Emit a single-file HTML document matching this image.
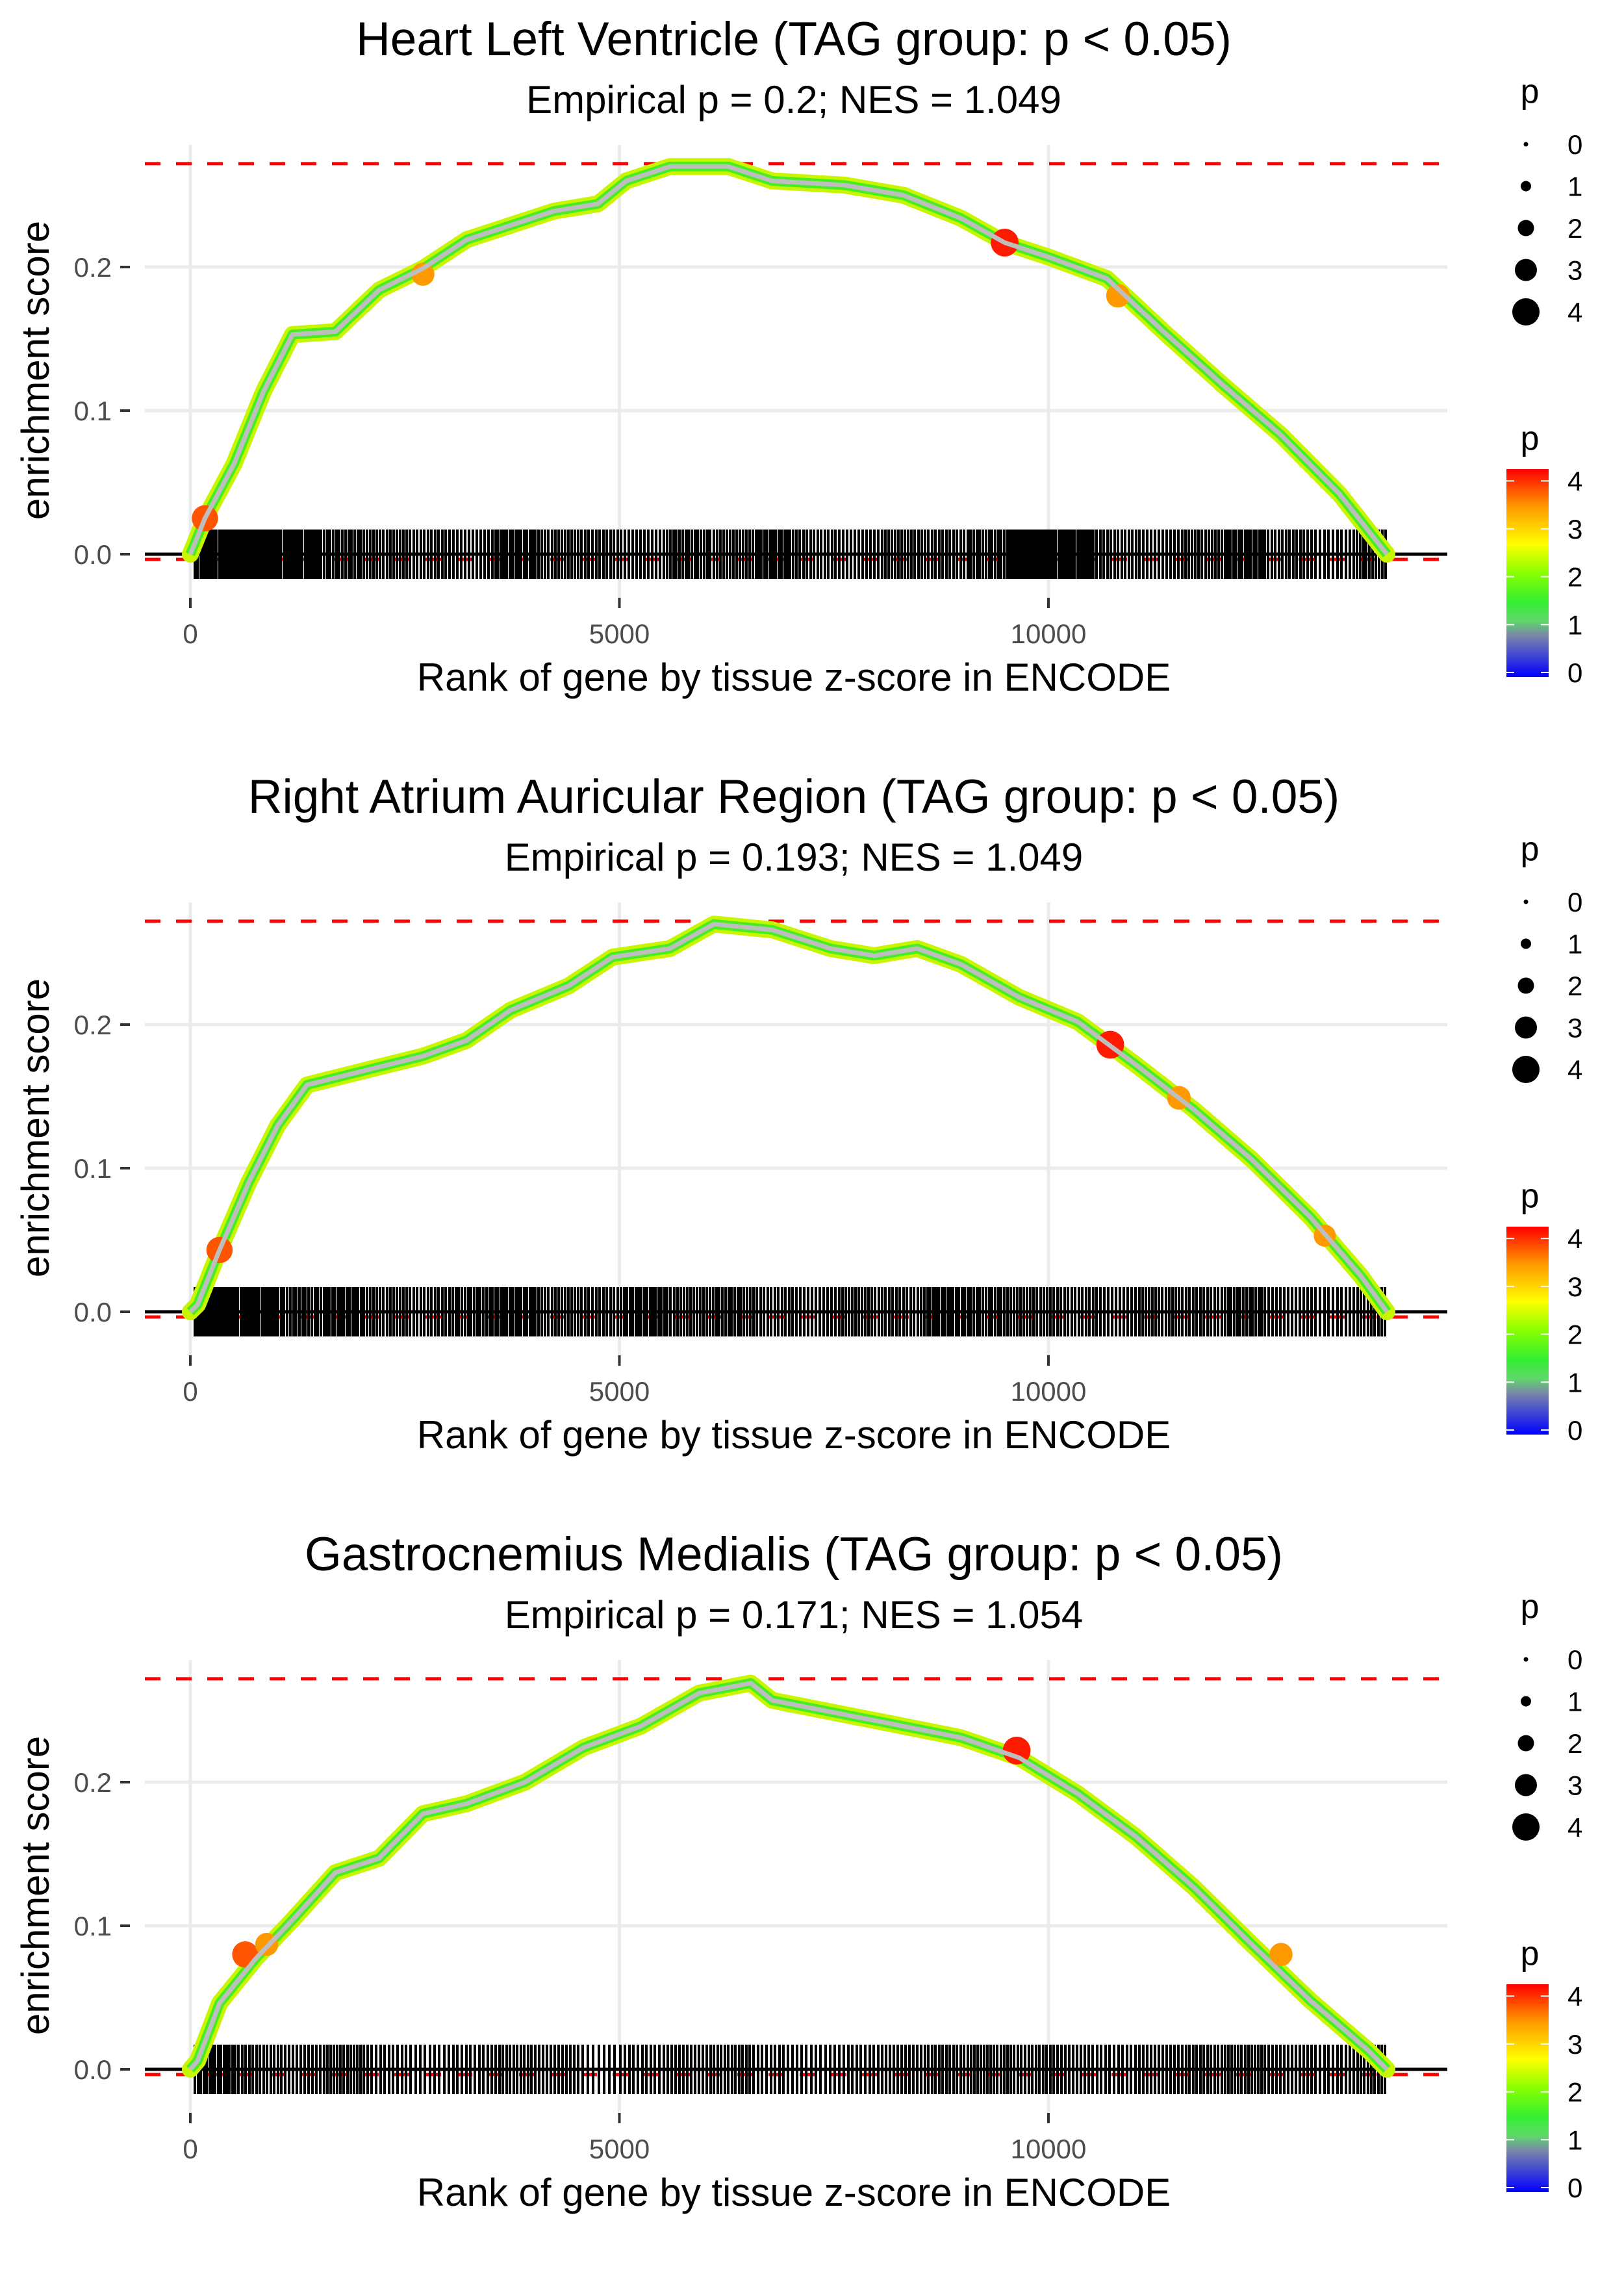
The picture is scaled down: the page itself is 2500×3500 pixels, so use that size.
<!DOCTYPE html>
<html><head><meta charset="utf-8"><style>
html,body{margin:0;padding:0;background:#fff;}
svg{display:block;font-family:"Liberation Sans",sans-serif;}
</style></head><body>
<svg id="chart" width="2500" height="3500" viewBox="0 0 2500 3500" xmlns="http://www.w3.org/2000/svg">
<defs>
<linearGradient id="cbar" x1="0" y1="1" x2="0" y2="0">
<stop offset="0" stop-color="#0000ff"/>
<stop offset="0.2" stop-color="#7a86a8"/>
<stop offset="0.27" stop-color="#5fd86a"/>
<stop offset="0.36" stop-color="#33ee33"/>
<stop offset="0.5" stop-color="#88ff00"/>
<stop offset="0.64" stop-color="#ffff00"/>
<stop offset="0.82" stop-color="#ff9900"/>
<stop offset="1" stop-color="#ff0000"/>
</linearGradient>
</defs>
</svg>
<script>
const titles = ["Heart Left Ventricle (TAG group: p < 0.05)","Right Atrium Auricular Region (TAG group: p < 0.05)","Gastrocnemius Medialis (TAG group: p < 0.05)"];
const subtitles = ["Empirical p = 0.2; NES = 1.049","Empirical p = 0.193; NES = 1.049","Empirical p = 0.171; NES = 1.054"];
const xTicks = [0,5000,10000];
const xTickLabels = ["0","5000","10000"];
const yTicks = [0,0.1,0.2];
const yTickLabels = ["0.0","0.1","0.2"];
const maxES = [0.272,0.272,0.272];
const minES = [-0.0036,-0.0036,-0.0036];
const rank1 = [0,170,510,850,1190,1690,2200,2710,3220,3730,4240,4750,5080,5590,6270,6780,7630,8310,8980,9490,10000,10680,11360,12030,12710,13390,13944];
const es1 = [0,0.025,0.063,0.113,0.153,0.155,0.184,0.199,0.219,0.229,0.239,0.244,0.26,0.27,0.27,0.26,0.257,0.25,0.234,0.217,0.207,0.192,0.154,0.118,0.083,0.042,0.0];
const rank2 = [0,85,340,680,1020,1360,2030,2710,3220,3730,4410,4920,5590,6100,6780,7460,7970,8470,8980,9660,10340,11020,11690,12370,13050,13640,13944];
const es2 = [0,0.005,0.043,0.09,0.13,0.158,0.168,0.178,0.189,0.21,0.227,0.247,0.253,0.27,0.266,0.253,0.248,0.253,0.242,0.219,0.202,0.172,0.141,0.106,0.066,0.025,0.0];
const rank3 = [0,85,340,760,1190,1690,2200,2710,3220,3900,4580,5250,5930,6530,6780,7460,8310,8980,9660,10340,11020,11690,12370,13050,13730,13944];
const es3 = [0,0.006,0.046,0.077,0.104,0.137,0.147,0.178,0.185,0.2,0.224,0.239,0.262,0.269,0.257,0.249,0.239,0.231,0.217,0.192,0.162,0.127,0.087,0.048,0.013,0.0];
const hiRank1 = [170,9490,2710,10810]; const hiES1 = [0.025,0.217,0.195,0.18]; const hiP1 = [3.8,4.1,3.2,3.3];
const hiRank2 = [340,10720,11520,13220]; const hiES2 = [0.043,0.186,0.149,0.053]; const hiP2 = [3.8,4.1,3.3,3.0];
const hiRank3 = [640,9630,890,12710]; const hiES3 = [0.08,0.222,0.087,0.08]; const hiP3 = [3.8,4.1,3.2,3.2];
const rugCounts1 = [16,18,16,14,13,12,11,15,13,12,11,14,13,15,12,11,13,12,14,18,16,12,11,13,15,12,10,11];
const rugCounts2 = [18,16,14,15,13,12,14,15,13,12,15,13,14,12,11,13,12,15,14,13,12,11,13,12,14,11,10,10];
const rugCounts3 = [15,12,11,13,10,9,10,12,11,8,10,11,12,10,9,10,11,12,13,12,11,10,11,12,13,11,10,10];

const ranks=[rank1,rank2,rank3], ess=[es1,es2,es3];
const hiR=[hiRank1,hiRank2,hiRank3], hiE=[hiES1,hiES2,hiES3], hiP=[hiP1,hiP2,hiP3];
const rugs=[rugCounts1,rugCounts2,rugCounts3];
const NS="http://www.w3.org/2000/svg";
const svg=document.getElementById('chart');
function mk(tag,attrs,parent,text){const e=document.createElementNS(NS,tag);for(const k in attrs)e.setAttribute(k,attrs[k]);if(text!==undefined)e.textContent=text;(parent||svg).appendChild(e);return e;}
const X0=293, XS=0.1321, PL=223, PR=2228, PANEL=1166;
function xs(r){return X0+r*XS;}
function pcol(p){if(p>=3.9)return "#ff1a00";if(p>=3.5)return "#ff5500";if(p>=3)return "#ff9900";return "#ffff00";}
for(let i=0;i<3;i++){
  const off=i*PANEL, Y0=853+off, YS=2210;
  const ys=v=>Y0-v*YS;
  const g=mk('g',{});
  
  
  const t=mk('text',{x:1222,y:85+off,'font-size':73,'text-anchor':'middle',fill:'#000'},g,titles[i]);
  
  
  const st=mk('text',{x:1222,y:174+off,'font-size':60,'text-anchor':'middle',fill:'#000'},g,subtitles[i]);
  
  
  yTicks.forEach((v,k)=>{
    const l=mk('line',{x1:PL,x2:PR,y1:ys(v),y2:ys(v),stroke:'#ebebeb','stroke-width':5},g);
    
    
    const tk=mk('line',{x1:185,x2:200,y1:ys(v),y2:ys(v),stroke:'#333','stroke-width':4},g);
    
    
    const tl=mk('text',{x:172,y:ys(v)+15,'font-size':42,'text-anchor':'end',fill:'#4d4d4d'},g,yTickLabels[k]);
    
    
  });
  xTicks.forEach((v,k)=>{
    const l=mk('line',{x1:xs(v),x2:xs(v),y1:223+off,y2:926+off,stroke:'#ebebeb','stroke-width':5},g);
    
    
    const tk=mk('line',{x1:xs(v),x2:xs(v),y1:920+off,y2:936+off,stroke:'#333','stroke-width':4},g);
    
    
    const tl=mk('text',{x:xs(v),y:990+off,'font-size':42,'text-anchor':'middle',fill:'#4d4d4d'},g,xTickLabels[k]);
    
    
  });
  const yt=mk('text',{x:0,y:0,'font-size':60,'text-anchor':'middle',fill:'#000',transform:`translate(75,${570+off}) rotate(-90)`},g,'enrichment score');
  
  
  const xt=mk('text',{x:1222,y:1063+off,'font-size':60,'text-anchor':'middle',fill:'#000'},g,'Rank of gene by tissue z-score in ENCODE');
  
  
  const dt=mk('line',{x1:PL,x2:PR,y1:ys(maxES[i]),y2:ys(maxES[i]),stroke:'#ff0000','stroke-width':5,'stroke-dasharray':'24 24'},g);
  
  
  const db=mk('line',{x1:PL,x2:PR,y1:ys(minES[i]),y2:ys(minES[i]),stroke:'#ff0000','stroke-width':5,'stroke-dasharray':'24 24'},g);
  
  
  const rg=mk('g',{stroke:'#000','stroke-width':4,'shape-rendering':'crispEdges'},g);
  
  
  rugs[i].forEach((c,b)=>{
    const start=b*500+40, span=Math.min(500,13944-start);
    for(let j=0;j<c;j++){
      const r=start+(j+0.5)*span/c;
      const l=mk('line',{x1:Math.round(xs(r)),x2:Math.round(xs(r)),y1:Y0-38,y2:Y0+38},rg);
      
      
    }
  });
  const zl=mk('line',{x1:PL,x2:PR,y1:Y0,y2:Y0,stroke:'#000','stroke-width':5},g);
  
  
  const pts=ranks[i].map((r,k)=>xs(r)+','+ys(ess[i][k])).join(' ');
  const c1=mk('polyline',{points:pts,fill:'none',stroke:'#c8f500','stroke-width':26,'stroke-linejoin':'round','stroke-linecap':'round'},g);
  
  
  const c2=mk('polyline',{points:pts,fill:'none',stroke:'#44ee22','stroke-width':15,'stroke-linejoin':'round'},g);
  
  
  hiR[i].forEach((r,k)=>{
    const c=mk('circle',{cx:xs(r),cy:ys(hiE[i][k]),r:5+hiP[i][k]*4,fill:pcol(hiP[i][k])},g);
    
    
  });
  const c3=mk('polyline',{points:pts,fill:'none',stroke:'#bebebe','stroke-width':7,'stroke-linejoin':'round'},g);
  
  
  const lg=mk('g',{},g);
  
  
  const lt=mk('text',{x:2355,y:158+off,'font-size':52,fill:'#000','text-anchor':'middle'},lg,'p');
  
  
  [3.5,8,12.5,17,21].forEach((rad,k)=>{
    const cy=222+k*64.5+off;
    const c=mk('circle',{cx:2349,cy:cy,r:rad,fill:'#000'},lg);
    
    
    const tx=mk('text',{x:2413,y:cy+15,'font-size':42,fill:'#000'},lg,String(k));
    
    
  });
  const cg=mk('g',{},g);
  
  
  const ct=mk('text',{x:2355,y:692+off,'font-size':52,fill:'#000','text-anchor':'middle'},cg,'p');
  
  
  const cb=mk('rect',{x:2319,y:722+off,width:65,height:320,fill:'url(#cbar)'},cg);
  
  
  for(let k=0;k<=4;k++){
    const yy=1035+off-k*73.7;
    mk('line',{x1:2319,x2:2331,y1:yy,y2:yy,stroke:'#fff','stroke-width':2},cg);
    mk('line',{x1:2372,x2:2384,y1:yy,y2:yy,stroke:'#fff','stroke-width':2},cg);
    const tx=mk('text',{x:2413,y:yy+15,'font-size':42,fill:'#000'},cg,String(k));
    
    
  }
}
</script>
</body></html>
